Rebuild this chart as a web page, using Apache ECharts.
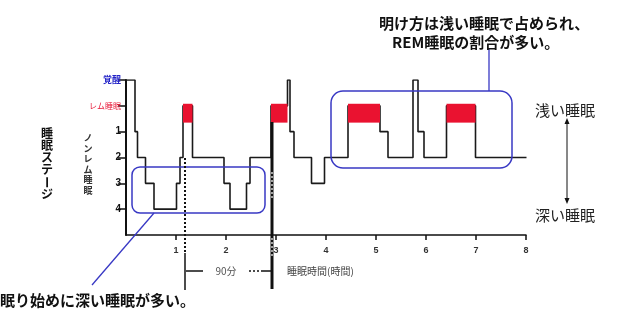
<!DOCTYPE html>
<html>
<head>
<meta charset="utf-8">
<script src="https://cdn.jsdelivr.net/npm/echarts@6/dist/echarts.min.js"></script>
<style>
html,body{margin:0;padding:0;background:#fff}
#main{width:622px;height:315px}
</style>
</head>
<body>
<div id="main"></div>
<script>
// stage codes: 0=覚醒, 1=レム睡眠, 2..5 = ノンレム 1..4
var stageLabels = ['覚醒', 'レム睡眠', '1', '2', '3', '4'];
var hourLabels = ['1', '2', '3', '4', '5', '6', '7', '8'];
// time (hours) at which each stage starts, last entry = end of record
var changeTimes = [0, 0.18, 0.23, 0.39, 0.56, 1.01, 1.08, 1.14, 1.33, 1.96, 2.08, 2.41, 2.48, 2.9,
    3.23, 3.28, 3.36, 3.71, 3.97, 4.44, 5.08, 5.24, 5.74, 5.84, 5.96, 6.41, 6.99, 8.01];
var stageValues = [0, 2, 3, 4, 5, 4, 3, 1, 3, 4, 5, 4, 3, 1,
    0, 2, 3, 4, 3, 1, 2, 3, 0, 2, 3, 1, 3, 3];

var hypno = changeTimes.map(function (t, i) { return [t, stageValues[i]]; });
var remBlocks = [];
for (var i = 0; i < stageValues.length - 1; i++) {
    if (stageValues[i] === 1) remBlocks.push([changeTimes[i], changeTimes[i + 1]]);
}

var jp = '"Noto Sans CJK JP", sans-serif';
var blue = '#3838c4';

function txt(s, x, y, size, opt) {
    opt = opt || {};
    return {
        type: 'text', rotation: opt.rot || 0, x: x, y: y, z: 10,
        style: {
            text: s, x: 0, y: 0,
            font: (opt.weight || 'bold') + ' ' + size + 'px ' + jp,
            fill: opt.color || '#111',
            textAlign: opt.align || 'left',
            textVerticalAlign: 'middle'
        }
    };
}
function ln(x1, y1, x2, y2, color, w, dash) {
    return {
        type: 'line', z: 9,
        shape: {x1: x1, y1: y1, x2: x2, y2: y2},
        style: {stroke: color, lineWidth: w, lineDash: dash || null}
    };
}

var graphics = [];
// vertical title 睡眠ステージ
'睡眠ステージ'.split('').forEach(function (c, k) {
    graphics.push(txt(c, 47, 133 + k * 12.3, 12, {align: 'center', rot: c === 'ー' ? -Math.PI / 2 : 0}));
});
'ノンレム睡眠'.split('').forEach(function (c, k) {
    graphics.push(txt(c, 88, 138 + k * 10.5, 9, {align: 'center', color: '#333', rot: c === 'ー' ? -Math.PI / 2 : 0}));
});
// boxes
graphics.push({type: 'rect', z: 8, shape: {x: 132, y: 167, width: 133, height: 46, r: 8},
    style: {fill: 'none', stroke: blue, lineWidth: 1.5}});
graphics.push({type: 'rect', z: 8, shape: {x: 331, y: 91, width: 181, height: 77, r: 12},
    style: {fill: 'none', stroke: blue, lineWidth: 1.5}});
graphics.push(ln(154, 213, 92, 285, blue, 1.3));
graphics.push(ln(489, 48, 489, 91, blue, 1.3));
// 90 min markers
graphics.push(ln(185, 158, 185, 253, '#111', 2, [2, 2]));
graphics.push(ln(185, 253, 185, 290, '#111', 1.5));
graphics.push(ln(272, 122, 272, 289, '#111', 3));
graphics.push(ln(272, 172, 272, 200, '#fff', 1.2, [2, 2]));
graphics.push(ln(272, 238, 272, 258, '#fff', 1.2, [2, 2]));
graphics.push(ln(186, 271, 203, 271, '#111', 1.5));
graphics.push(ln(249, 271, 261, 271, '#111', 1.5, [2, 2]));
graphics.push(ln(261, 271, 272, 271, '#111', 1.5));
graphics.push(txt('90分', 226, 271, 10, {align: 'center', color: '#555', weight: 'normal'}));
graphics.push(txt('睡眠時間(時間)', 287, 271, 10, {color: '#444', weight: 'normal'}));
// annotations
graphics.push(txt('明け方は浅い睡眠で占められ、', 379, 23, 15));
graphics.push(txt('REM睡眠の割合が多い。', 392, 42, 15));
graphics.push(txt('眠り始めに深い睡眠が多い。', 0, 300, 15));
graphics.push(txt('浅い睡眠', 535, 110, 15, {weight: 'normal', color: '#222'}));
graphics.push(txt('深い睡眠', 535, 215, 15, {weight: 'normal', color: '#222'}));
graphics.push(ln(567, 121, 567, 201, '#111', 1));
graphics.push({type: 'polygon', z: 9, shape: {points: [[567, 118], [564.5, 124], [569.5, 124]]}, style: {fill: '#111'}});
graphics.push({type: 'polygon', z: 9, shape: {points: [[567, 204], [564.5, 198], [569.5, 198]]}, style: {fill: '#111'}});

var myChart = echarts.init(document.getElementById('main'));
var option = {
    animation: false,
    grid: {left: 126, right: 96, top: 80, height: 155},
    xAxis: {
        type: 'value', min: 0, max: 8, interval: 1,
        axisLine: {show: true, onZero: false, lineStyle: {color: '#111', width: 1.5}},
        axisTick: {show: true, length: 5, customValues: [1, 2, 3, 4, 5, 6, 7, 8], lineStyle: {color: '#111', width: 1.5}},
        splitLine: {show: false},
        axisLabel: {
            margin: 11, color: '#333', fontSize: 9, fontWeight: 'bold', fontFamily: 'Liberation Sans',
            formatter: function (v) { return v > 0 ? hourLabels[v - 1] : ''; }
        }
    },
    yAxis: {
        type: 'value', inverse: true, min: 0, max: 6, interval: 1,
        axisLine: {show: true, onZero: false, lineStyle: {color: '#111', width: 2}},
        axisTick: {show: true, length: 8, customValues: [0, 1, 2, 3, 4, 5], lineStyle: {color: '#111', width: 1.5}},
        splitLine: {show: false},
        axisLabel: {
            margin: 5,
            customValues: [0, 1, 2, 3, 4, 5],
            formatter: function (v) {
                if (v === 0) return '{w|' + stageLabels[0] + '}';
                if (v === 1) return '{r|' + stageLabels[1] + '}';
                return '{n|' + stageLabels[v] + '}';
            },
            rich: {
                w: {color: '#2424c8', fontSize: 9, fontWeight: 'bold', fontFamily: jp},
                r: {color: '#e81c3c', fontSize: 8, fontFamily: jp},
                n: {color: '#111', fontSize: 10, fontWeight: 'bold', fontFamily: 'Liberation Sans'}
            }
        }
    },
    series: [{
        type: 'line',
        step: 'end',
        data: hypno,
        symbol: 'none',
        z: 2,
        lineStyle: {color: '#1a1a1a', width: 1.6}
    }, {
        type: 'custom',
        z: 3,
        data: remBlocks,
        encode: {x: [0, 1]},
        renderItem: function (params, api) {
            var p0 = api.coord([api.value(0), 0.92]);
            var p1 = api.coord([api.value(1), 1.65]);
            return {
                type: 'rect',
                shape: {x: p0[0], y: p0[1], width: p1[0] - p0[0], height: p1[1] - p0[1]},
                style: {fill: '#ea1230'}
            };
        }
    }],
    graphic: {elements: graphics}
};
myChart.setOption(option);
</script>
</body>
</html>
